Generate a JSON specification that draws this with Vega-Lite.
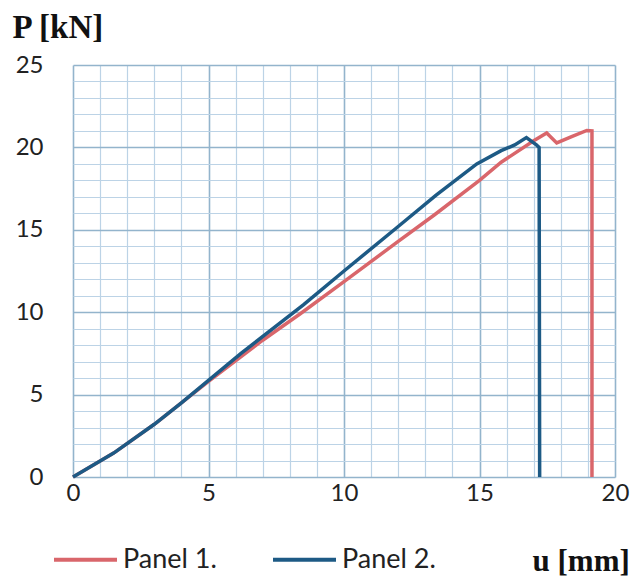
{
  "$schema": "https://vega.github.io/schema/vega-lite/v6.json",
  "width": 542,
  "height": 412,
  "autosize": "none",
  "padding": {"left": 73, "top": 65, "right": 22, "bottom": 101},
  "background": "white",
  "config": {"view": {"stroke": null}},
  "data": {
    "values": [
      {"s": "Panel 1.", "k": 1, "u": 0, "P": 0},
      {"s": "Panel 1.", "k": 2, "u": 1.5, "P": 1.45},
      {"s": "Panel 1.", "k": 3, "u": 3, "P": 3.2},
      {"s": "Panel 1.", "k": 4, "u": 5, "P": 5.8},
      {"s": "Panel 1.", "k": 5, "u": 7, "P": 8.3},
      {"s": "Panel 1.", "k": 6, "u": 8.4, "P": 9.92},
      {"s": "Panel 1.", "k": 7, "u": 10, "P": 11.85},
      {"s": "Panel 1.", "k": 8, "u": 12, "P": 14.3},
      {"s": "Panel 1.", "k": 9, "u": 13.33, "P": 15.9},
      {"s": "Panel 1.", "k": 10, "u": 15, "P": 18.0},
      {"s": "Panel 1.", "k": 11, "u": 15.8, "P": 19.1},
      {"s": "Panel 1.", "k": 12, "u": 17.0, "P": 20.4},
      {"s": "Panel 1.", "k": 13, "u": 17.48, "P": 20.87},
      {"s": "Panel 1.", "k": 14, "u": 17.85, "P": 20.27},
      {"s": "Panel 1.", "k": 15, "u": 18.4, "P": 20.65},
      {"s": "Panel 1.", "k": 16, "u": 18.96, "P": 21.03},
      {"s": "Panel 1.", "k": 17, "u": 19.15, "P": 21.0},
      {"s": "Panel 1.", "k": 18, "u": 19.15, "P": 0},
      {"s": "Panel 2.", "k": 1, "u": 0, "P": 0},
      {"s": "Panel 2.", "k": 2, "u": 1.5, "P": 1.45},
      {"s": "Panel 2.", "k": 3, "u": 3, "P": 3.2},
      {"s": "Panel 2.", "k": 4, "u": 4, "P": 4.5},
      {"s": "Panel 2.", "k": 5, "u": 6.2, "P": 7.5},
      {"s": "Panel 2.", "k": 6, "u": 8.5, "P": 10.45},
      {"s": "Panel 2.", "k": 7, "u": 10, "P": 12.5},
      {"s": "Panel 2.", "k": 8, "u": 12, "P": 15.2},
      {"s": "Panel 2.", "k": 9, "u": 13.4, "P": 17.1},
      {"s": "Panel 2.", "k": 10, "u": 14.9, "P": 19.0},
      {"s": "Panel 2.", "k": 11, "u": 15.8, "P": 19.8},
      {"s": "Panel 2.", "k": 12, "u": 16.3, "P": 20.15},
      {"s": "Panel 2.", "k": 13, "u": 16.73, "P": 20.6},
      {"s": "Panel 2.", "k": 14, "u": 17.1, "P": 20.15},
      {"s": "Panel 2.", "k": 15, "u": 17.2, "P": 20.0},
      {"s": "Panel 2.", "k": 16, "u": 17.22, "P": 0}
    ]
  },
  "mark": {"type": "line", "strokeWidth": 3.5, "strokeJoin": "miter"},
  "encoding": {
    "x": {
      "field": "u",
      "type": "quantitative",
      "scale": {"domain": [0, 20], "nice": false, "zero": true},
      "axis": {
        "values": [0,1,2,3,4,5,6,7,8,9,10,11,12,13,14,15,16,17,18,19,20],
        "labelExpr": "datum.value % 5 === 0 ? datum.label : ''",
        "domain": false,
        "ticks": false,
        "grid": true,
        "gridColor": {"condition": {"test": "datum.value % 5 === 0", "value": "#93b4cc"}, "value": "#bcd3e6"},
        "gridWidth": {"condition": {"test": "datum.value % 5 === 0", "value": 1.6}, "value": 1.2},
        "gridOpacity": 1,
        "labelFont": "Lato",
        "labelFontSize": 24,
        "labelColor": "#222222",
        "labelPadding": 4,
        "labelFlush": false,
        "title": "u [mm]",
        "titleFont": "Liberation Serif",
        "titleFontWeight": "bold",
        "titleFontSize": 31,
        "titleColor": "#111111",
        "titleAnchor": null,
        "titleAlign": "left",
        "titleBaseline": "alphabetic",
        "titleX": 459,
        "titleY": 93
      }
    },
    "y": {
      "field": "P",
      "type": "quantitative",
      "scale": {"domain": [0, 25], "nice": false},
      "axis": {
        "values": [0,1,2,3,4,5,6,7,8,9,10,11,12,13,14,15,16,17,18,19,20,21,22,23,24,25],
        "labelExpr": "datum.value % 5 === 0 ? datum.label : ''",
        "domain": false,
        "ticks": false,
        "grid": true,
        "gridColor": {"condition": {"test": "datum.value % 5 === 0", "value": "#93b4cc"}, "value": "#bcd3e6"},
        "gridWidth": {"condition": {"test": "datum.value % 5 === 0", "value": 1.6}, "value": 1.2},
        "gridOpacity": 1,
        "labelFont": "Lato",
        "labelFontSize": 24,
        "labelColor": "#222222",
        "labelPadding": 30,
        "labelFlush": false,
        "title": "P [kN]",
        "titleFont": "Liberation Serif",
        "titleFontWeight": "bold",
        "titleFontSize": 33,
        "titleColor": "#111111",
        "titleAngle": 0,
        "titleAnchor": null,
        "titleAlign": "left",
        "titleBaseline": "alphabetic",
        "titleX": -61,
        "titleY": -28
      }
    },
    "color": {
      "field": "s",
      "type": "nominal",
      "scale": {"domain": ["Panel 1.", "Panel 2."], "range": ["#d9666b", "#1d5a85"]},
      "legend": {
        "title": null,
        "orient": "none",
        "direction": "horizontal",
        "legendX": -21,
        "legendY": 461,
        "symbolType": "stroke",
        "symbolSize": 3969,
        "symbolStrokeWidth": 4,
        "labelFont": "Lato",
        "labelFontSize": 27,
        "labelColor": "#222222",
        "labelOffset": 4,
        "columnPadding": 48
      }
    },
    "order": {"field": "k", "type": "quantitative"}
  }
}
